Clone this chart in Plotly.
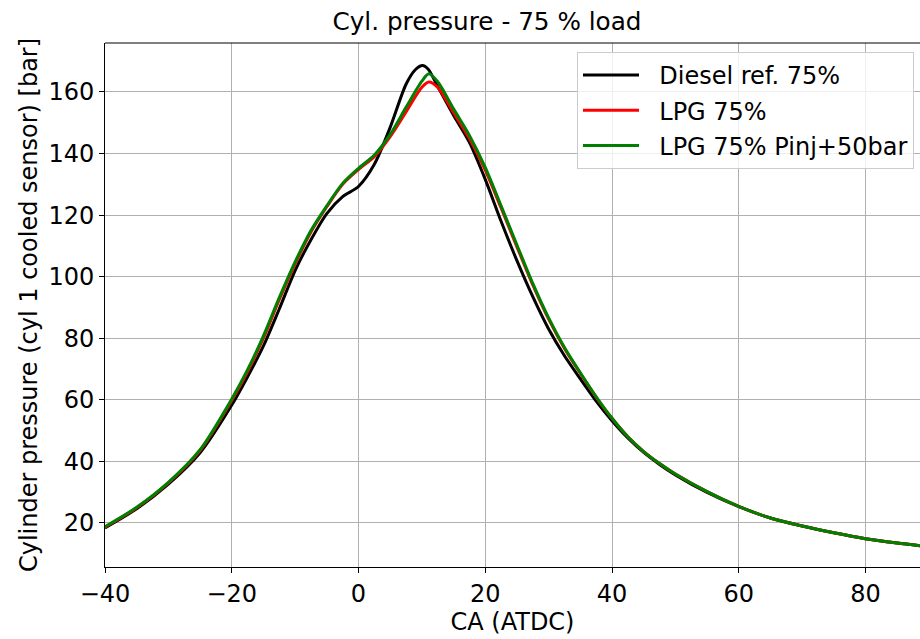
import plotly.graph_objects as go

# Crank angle samples (deg ATDC)
ca_d = [-40, -35, -30, -25, -20, -17.5, -15, -12.5, -10, -7.5, -5, -2.5, 0, 2.5, 5, 7.5, 9,
        10.1, 11, 12.5, 15, 17.5, 20, 22.5, 25, 27.5, 30, 32.5, 35, 37.5, 40, 42.5, 45, 47.5, 50, 55,
        60, 65, 70, 75, 80, 85, 90]
diesel = [18.4, 24.6, 32.6, 42.8, 58.3, 67.5, 77.5, 89.5, 102.0, 112.0, 120.5, 126.0, 129.3, 136.5, 148.5, 162.5, 167.3,
          168.6, 167.4, 161.8, 152.4, 143.6, 131.6, 118.0, 105.2, 93.5, 83.0, 74.3, 66.8, 59.6, 53.2, 47.6, 42.9, 39.0, 35.6, 29.9,
          25.3, 21.6, 19.0, 16.8, 14.9, 13.5, 12.3]

ca_l = [-40, -35, -30, -25, -20, -17.5, -15, -12.5, -10, -7.5, -5, -2.5, 0, 2.5, 5, 7.5, 10,
        11.1, 12.5, 15, 17.5, 20, 22.5, 25, 27.5, 30, 32.5, 35, 37.5, 40, 42.5, 45, 47.5, 50, 55,
        60, 65, 70, 75, 80, 85, 90]
lpg = [18.6, 24.9, 33.0, 43.5, 59.8, 69.2, 80.0, 92.5, 104.2, 114.5, 122.7, 130.0, 134.8, 139.0, 145.5, 153.5, 161.5,
       163.2, 161.5, 153.3, 144.9, 134.6, 122.3, 109.7, 97.3, 86.2, 76.7, 68.6, 60.9, 54.0, 48.0, 43.2, 39.3, 35.9, 30.2,
       25.4, 21.6, 19.0, 16.8, 14.9, 13.5, 12.3]
lpg_pinj = [18.8, 25.1, 33.2, 43.8, 60.3, 69.8, 80.8, 93.2, 104.8, 115.0, 123.0, 130.3, 135.2, 139.5, 146.2, 155.0, 163.5,
            165.9, 163.3, 154.5, 145.9, 135.5, 123.0, 110.3, 97.8, 86.6, 77.0, 68.8, 61.0, 54.0, 48.0, 43.2, 39.3, 35.9, 30.2,
            25.4, 21.6, 19.0, 16.8, 14.9, 13.5, 12.3]

names = ["Diesel ref. 75%", "LPG 75%", "LPG 75% Pinj+50bar"]
colors = ["black", "red", "green"]
xs = [ca_d, ca_l, ca_l]
series = [diesel, lpg, lpg_pinj]

fig = go.Figure()
for i, (nm, col, x, ys) in enumerate(zip(names, colors, xs, series)):
    fig.add_trace(go.Scatter(x=x, y=ys, mode="lines", name="\u00a0\u00a0" + nm, legendgroup=f"g{i}",
                             line=dict(color=col, width=3, shape="spline", smoothing=0.8)))

font = "DejaVu Sans"
fig.update_layout(
    width=920, height=639,
    margin=dict(l=105, r=0, t=43, b=72),
    paper_bgcolor="white", plot_bgcolor="white",
    font=dict(family=font, size=24, color="black"),
    title=dict(text="Cyl. pressure - 75 % load", x=487/920, xanchor="center",
               y=1 - 21/639, yanchor="middle", font=dict(size=24.7, family=font)),
    showlegend=True,
    legend=dict(x=(914 - 105) / 815, xanchor="right", y=0.983, yanchor="top",
                bgcolor="rgba(255,255,255,0.8)", bordercolor="#cccccc", borderwidth=1,
                font=dict(size=24, family=font), itemwidth=56, tracegroupgap=1),
)
fig.update_xaxes(range=[-40, 88.6], tickvals=[-40, -20, 0, 20, 40, 60, 80],
                 ticktext=["\u221240", "\u221220", "0", "20", "40", "60", "80"],
                 showgrid=True, gridcolor="#b0b0b0", gridwidth=1,
                 showline=True, linecolor="black", linewidth=1, mirror=False,
                 ticks="outside", ticklen=5, tickcolor="black", zeroline=False, automargin=False,
                 title=dict(text="CA (ATDC)", font=dict(size=24), standoff=6))
fig.update_yaxes(range=[5.7, 175.9], tickvals=[20, 40, 60, 80, 100, 120, 140, 160],
                 showgrid=True, gridcolor="#b0b0b0", gridwidth=1,
                 showline=True, linecolor="black", linewidth=1, mirror=False,
                 ticks="outside", ticklen=5, tickcolor="black", zeroline=False, automargin=False,
                 title=dict(text="Cylinder pressure (cyl 1 cooled sensor) [bar]", font=dict(size=24), standoff=3))
fig.add_shape(type="line", xref="paper", yref="paper", x0=0, x1=1, y0=1, y1=1,
              line=dict(color="black", width=1))
fig.write_html("out.html", config={"displayModeBar": False},
               post_script="document.body.style.margin='0';document.body.style.overflow='hidden';")
